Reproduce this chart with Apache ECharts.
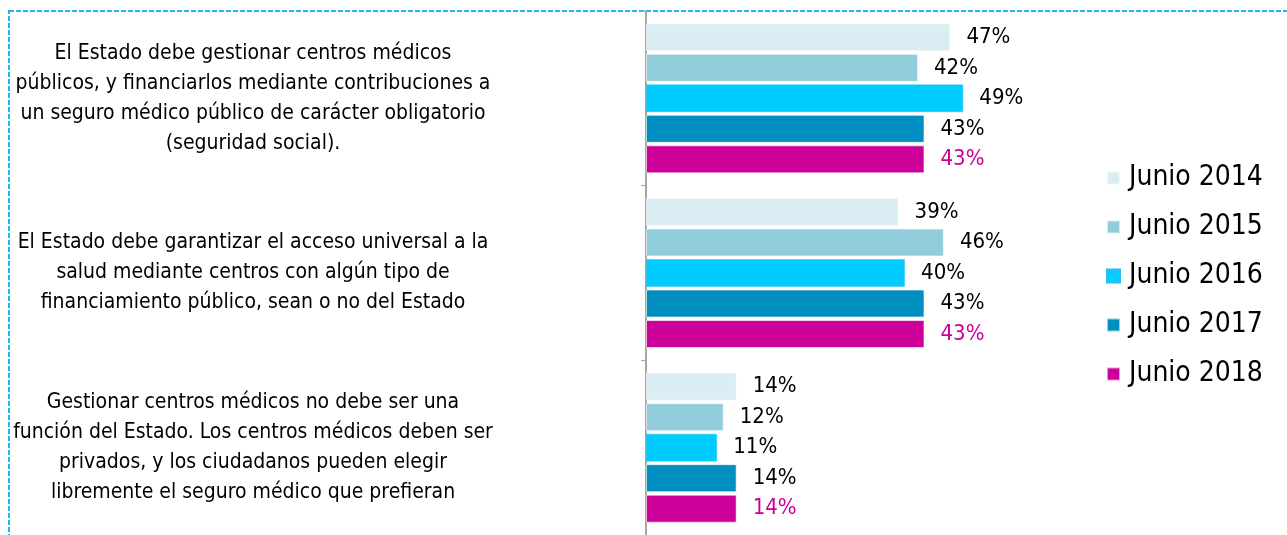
<!DOCTYPE html>
<html>
<head>
<meta charset="utf-8">
<script src="https://cdn.jsdelivr.net/npm/echarts@6/dist/echarts.min.js"></script>
<style>
  html, body { margin: 0; padding: 0; background: #fff; }
  #chart { width: 1287px; height: 535px; }
</style>
</head>
<body>
<div id="chart"></div>
<script>
// categories (top to bottom)
const categories = [
  "El Estado debe gestionar centros médicos\npúblicos, y financiarlos mediante contribuciones a\nun seguro médico público de carácter obligatorio\n(seguridad social).",
  "El Estado debe garantizar el acceso universal a la\nsalud mediante centros con algún tipo de\nfinanciamiento público, sean o no del Estado",
  "Gestionar centros médicos no debe ser una\nfunción del Estado. Los centros médicos deben ser\nprivados, y los ciudadanos pueden elegir\nlibremente el seguro médico que prefieran"
];

const seriesNames = ["Junio 2014", "Junio 2015", "Junio 2016", "Junio 2017", "Junio 2018"];
const junio2014 = [47, 39, 14];
const junio2015 = [42, 46, 12];
const junio2016 = [49, 40, 11];
const junio2017 = [43, 43, 14];
const junio2018 = [43, 43, 14];

const values = [junio2014, junio2015, junio2016, junio2017, junio2018];
const colors = ["#daedf3", "#92cddc", "#00ccff", "#008fc0", "#cc0099"];
const labelColors = ["#000", "#000", "#000", "#000", "#cc0099"];

const FONT = '"DejaVu Sans Condensed", "DejaVu Sans", sans-serif';

const chart = echarts.init(document.getElementById('chart'));

const series = seriesNames.map((name, i) => ({
  name: name,
  type: 'bar',
  data: values[i],
  barWidth: 28,
  barGap: '9%',
  itemStyle: i === 2
    ? { color: colors[i], borderColor: '#33bbee', borderWidth: 1, borderType: 'dotted' }
    : { color: colors[i], borderColor: 'rgba(255,255,255,0.6)', borderWidth: 1 },
  label: {
    show: true,
    position: 'right',
    distance: 16,
    formatter: '{c}%',
    color: labelColors[i],
    fontSize: 22,
    fontFamily: FONT
  },
  emphasis: { disabled: true }
}));

chart.setOption({
  animation: false,
  grid: { left: 646, top: 11, right: 255, bottom: -4 },
  xAxis: {
    type: 'value',
    min: 0,
    max: 59.6,
    show: false
  },
  yAxis: {
    type: 'category',
    inverse: true,
    data: categories,
    axisLine: { show: true, lineStyle: { color: '#a6a6a6', width: 2 } },
    axisTick: { show: true, length: 5, lineStyle: { color: '#a6a6a6' } },
    axisLabel: {
      align: 'center',
      margin: 393,
      color: '#000',
      fontSize: 21,
      lineHeight: 30,
      fontFamily: FONT
    }
  },
  legend: {
    orient: 'vertical',
    left: 1106,
    top: 164,
    padding: 0,
    itemWidth: 13,
    itemHeight: 13,
    itemGap: 21,
    icon: 'rect',
    data: seriesNames,
    textStyle: { color: '#000', fontSize: 28, fontFamily: FONT, padding: [0, 0, 0, 4] }
  },
  graphic: [{
    type: 'rect',
    shape: { x: 9, y: 11, width: 1400, height: 600 },
    style: { fill: 'none', stroke: '#1cb8f0', lineWidth: 2, lineDash: [5, 2] },
    z: -1
  }],
  series: series
});
</script>
</body>
</html>
